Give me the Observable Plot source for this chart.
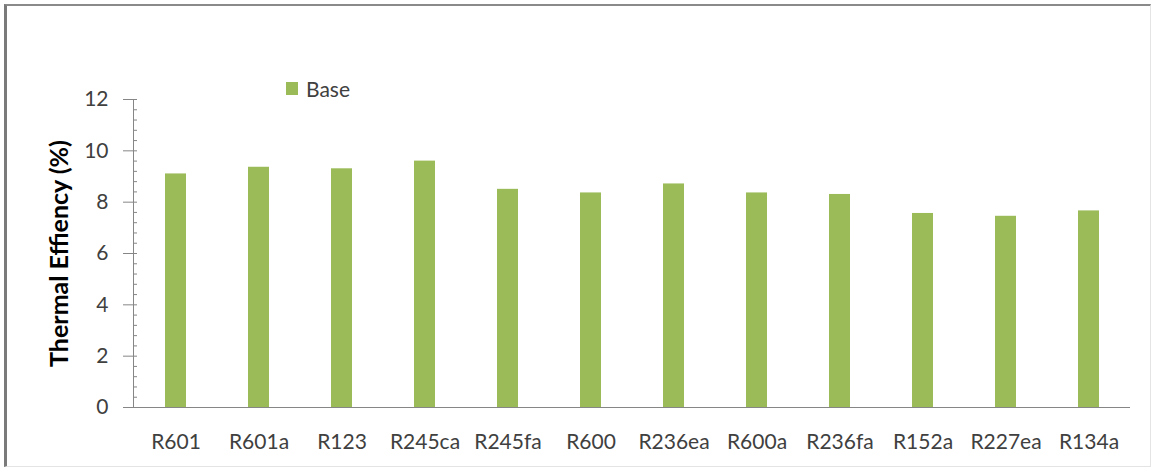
<!DOCTYPE html>
<html>
<head>
<meta charset="utf-8">
<script src="https://cdn.jsdelivr.net/npm/d3@7"></script>
<script src="https://cdn.jsdelivr.net/npm/@observablehq/plot@0.6"></script>
<style>
  html, body { margin: 0; padding: 0; background: #fff; }
  #wrap { position: relative; width: 1155px; height: 473px; font-family: Lato, "Open Sans", sans-serif; }
  #border { position: absolute; left: 4px; top: 4px; width: 1143px; height: 460px;
            border-left: 3px solid #7a7a7a; border-top: 2px solid #8a8a8a;
            border-right: 1px solid #e4e4e4; border-bottom: 1px solid #e4e4e4; pointer-events: none; }
  #legend { position: absolute; left: 286px; top: 76px; display: flex; align-items: center; font-size: 21px; color: #404040; }
  #legend .sw { width: 12px; height: 13px; background: #9BBB59; margin-right: 8px; }
</style>
</head>
<body>
<div id="wrap">
  <div id="chart"></div>
  <div id="border"></div>
  <div id="legend"><span class="sw"></span><span>Base</span></div>
</div>
<script>
const categories = ["R601", "R601a", "R123", "R245ca", "R245fa", "R600", "R236ea", "R600a", "R236fa", "R152a", "R227ea", "R134a"];
const baseValues = [9.10, 9.36, 9.30, 9.60, 8.50, 8.36, 8.71, 8.36, 8.30, 7.56, 7.45, 7.66];
const yTicks = [0, 2, 4, 6, 8, 10, 12];
const yMinorTicks = d3.range(0, 12.01, 0.4);
const seriesName = "Base";
const yLabel = "Thermal Effiency (%)";

const data = categories.map((c, i) => ({category: c, value: baseValues[i], series: seriesName}));

const chart = Plot.plot({
  width: 1155,
  height: 473,
  marginLeft: 133,
  marginRight: 25,
  marginTop: 99,
  marginBottom: 66,
  style: {fontFamily: "Lato, 'Open Sans', sans-serif", background: "transparent", color: "#404040"},
  x: {domain: categories, paddingInner: 0.75, paddingOuter: 0.375, label: null},
  y: {domain: [0, 12], label: null},
  marks: [
    Plot.barY(data, {x: "category", y: "value", fill: "#9BBB59"}),
    Plot.axisY(yMinorTicks, {tickSize: -4, text: null, stroke: "#868686", label: null}),
    Plot.axisY(yTicks, {tickSize: 10, tickPadding: 15, fontSize: 21, fill: "#404040", stroke: "#868686", label: null}),
    Plot.frame({anchor: "left", stroke: "#868686"}),
    Plot.ruleY([0], {stroke: "#868686"}),
    Plot.axisX({tickSize: 0, tickPadding: 27, fontSize: 21, fill: "#404040", label: null}),
    Plot.text([yLabel], {frameAnchor: "left", textAnchor: "middle", dx: -74, rotate: -90, fontSize: 25, fontWeight: "bold", fill: "#000", text: d => d})
  ]
});
document.getElementById("chart").appendChild(chart);
</script>
</body>
</html>
